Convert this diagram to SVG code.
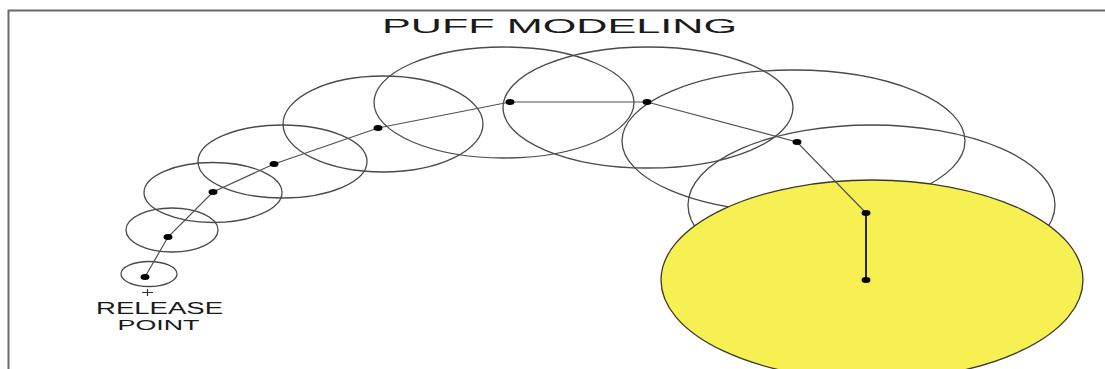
<svg xmlns="http://www.w3.org/2000/svg" width="1105" height="369" viewBox="0 0 1105 369">
<style>
.puff{fill:none;stroke:#4a4a4a;stroke-width:1.3}
.dot{fill:#000}
.conn{fill:none;stroke:#505050;stroke-width:1.2}
.lbl{font-family:"Liberation Sans",Arial,sans-serif;fill:#1a1a1a}
</style>
<rect width="1105" height="369" fill="#fff"/>
<path d="M8.5 369 V10.5 H1105" fill="none" stroke="#6a6a6a" stroke-width="2"/>
<text class="lbl" x="559.5" y="33" font-size="21" text-anchor="middle" textLength="355" lengthAdjust="spacingAndGlyphs">PUFF MODELING</text>
<g id="puff1"><ellipse class="puff" cx="149" cy="274" rx="28" ry="12.5"/></g>
<g id="puff2"><ellipse class="puff" cx="172" cy="230" rx="46" ry="22"/></g>
<g id="puff3"><ellipse class="puff" cx="213" cy="192.5" rx="69" ry="30"/></g>
<g id="puff4"><ellipse class="puff" cx="282.5" cy="161.5" rx="84.5" ry="36.5"/></g>
<g id="puff5"><ellipse class="puff" cx="383" cy="124" rx="100" ry="48"/></g>
<g id="puff6"><ellipse class="puff" cx="504" cy="102.5" rx="130" ry="55.5"/></g>
<g id="puff7"><ellipse class="puff" cx="648" cy="107.5" rx="145" ry="60.5"/></g>
<g id="puff8"><ellipse class="puff" cx="793.5" cy="141" rx="171.5" ry="71"/></g>
<g id="puff9"><ellipse class="puff" cx="871.5" cy="205" rx="183.5" ry="80"/></g>
<g id="puff10"><ellipse cx="872" cy="280" rx="211" ry="100" fill="#f6f052" stroke="#3a3a2a" stroke-width="1.3"/></g>
<g id="connectors">
<polyline class="conn" points="145,277 168,237 213,192 274,164 378,128 510,102"/>
<line class="conn" x1="510" y1="102" x2="647" y2="102" stroke="#8a8a8a"/>
<polyline class="conn" points="647,102 797,142 866,213"/>
<line x1="866" y1="213" x2="866" y2="280" stroke="#2a2a10" stroke-width="2"/>
</g>
<g id="centers">
<ellipse class="dot" cx="145" cy="277" rx="4.5" ry="3"/>
<ellipse class="dot" cx="168" cy="237" rx="4.5" ry="3"/>
<ellipse class="dot" cx="213" cy="192" rx="4.5" ry="3"/>
<ellipse class="dot" cx="274" cy="164" rx="4.5" ry="3"/>
<ellipse class="dot" cx="378" cy="128" rx="4.5" ry="3"/>
<ellipse class="dot" cx="510" cy="102" rx="4.5" ry="3"/>
<ellipse class="dot" cx="647" cy="102" rx="4.5" ry="3"/>
<ellipse class="dot" cx="797" cy="142" rx="4.5" ry="3"/>
<ellipse class="dot" cx="866" cy="213" rx="4.5" ry="3"/>
<ellipse class="dot" cx="866" cy="280" rx="4.5" ry="3"/>
</g>
<g id="release-point">
<path d="M142 292.5 H153 M147.5 289 V296" stroke="#333" stroke-width="1.2" fill="none"/>
<text class="lbl" x="159.5" y="313.5" font-size="16" text-anchor="middle" textLength="127" lengthAdjust="spacingAndGlyphs">RELEASE</text>
<text class="lbl" x="158.5" y="329.5" font-size="15.5" text-anchor="middle" textLength="82" lengthAdjust="spacingAndGlyphs">POINT</text>
</g>
</svg>
